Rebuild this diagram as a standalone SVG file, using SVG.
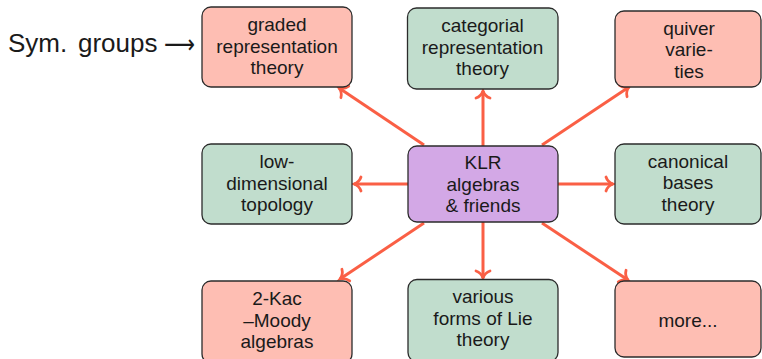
<svg xmlns="http://www.w3.org/2000/svg" width="762" height="359" viewBox="0 0 762 359">
<defs>
<marker id="to" markerUnits="userSpaceOnUse" markerWidth="20" markerHeight="20" refX="0" refY="0" viewBox="-10 -10 20 20" orient="auto" overflow="visible">
<path d="M -7 -7 C -5.5 -2.5 -2 -0.7 0 0 C -2 0.7 -5.5 2.5 -7 7" fill="none" stroke="#FA5F45" stroke-width="2.8" stroke-linecap="round"/>
</marker>
<style>
.box{stroke:#2b2b2b;stroke-width:1.3}
.red{fill:#FEBEB3}
.green{fill:#C1DDCD}
.purple{fill:#D3A8E6}
.t{font-family:"Liberation Sans",Arial,sans-serif;font-size:19px;fill:#1a1a1a;text-anchor:middle}
.big{font-family:"Liberation Sans",Arial,sans-serif;font-size:26px;fill:#1a1a1a}
.edge{stroke:#FA5F45;stroke-width:3;fill:none;marker-end:url(#to)}
</style>
</defs>
<rect width="762" height="359" fill="#ffffff"/>
<g id="connectors">
<line class="edge" x1="483" y1="146" x2="483" y2="91"/>
<line class="edge" x1="424" y1="145" x2="339" y2="88"/>
<line class="edge" x1="542" y1="145" x2="629" y2="87"/>
<line class="edge" x1="408" y1="184" x2="354" y2="184"/>
<line class="edge" x1="558" y1="184" x2="613" y2="184"/>
<line class="edge" x1="424" y1="223" x2="340" y2="279"/>
<line class="edge" x1="483" y1="222" x2="483" y2="278"/>
<line class="edge" x1="542" y1="223" x2="628" y2="280"/>
</g>
<g id="sym">
<text class="big" x="8" y="51.5">Sym.</text>
<text class="big" x="78" y="51.5">groups</text>
<text x="164" y="53" textLength="31" lengthAdjust="spacingAndGlyphs" style="font-family:'DejaVu Sans',sans-serif;font-size:26px;fill:#1a1a1a">⟶</text>
</g>
<g id="graded">
<rect class="box red" x="202" y="7" width="150" height="80" rx="9"/>
<text class="t" x="277" y="31">graded</text>
<text class="t" x="277" y="52.5">representation</text>
<text class="t" x="277" y="74">theory</text>
</g>
<g id="categorial">
<rect class="box green" x="407.5" y="8" width="150.5" height="81" rx="9"/>
<text class="t" x="482.5" y="32">categorial</text>
<text class="t" x="482.5" y="53.5">representation</text>
<text class="t" x="482.5" y="75">theory</text>
</g>
<g id="quiver">
<rect class="box red" x="615" y="11" width="146" height="76" rx="9"/>
<text class="t" x="689" y="34.5">quiver</text>
<text class="t" x="689" y="56">varie-</text>
<text class="t" x="689" y="77.5">ties</text>
</g>
<g id="lowdim">
<rect class="box green" x="202" y="144" width="150" height="80" rx="9"/>
<text class="t" x="277" y="168">low-</text>
<text class="t" x="277" y="189.5">dimensional</text>
<text class="t" x="277" y="211">topology</text>
</g>
<g id="klr">
<rect class="box purple" x="408" y="146" width="150" height="76" rx="9"/>
<text class="t" x="483" y="169">KLR</text>
<text class="t" x="483" y="190.5">algebras</text>
<text class="t" x="483" y="212">&amp; friends</text>
</g>
<g id="canonical">
<rect class="box green" x="615" y="144" width="146" height="80" rx="9"/>
<text class="t" x="688" y="167.5">canonical</text>
<text class="t" x="688" y="189">bases</text>
<text class="t" x="688" y="211">theory</text>
</g>
<g id="kac">
<rect class="box red" x="202" y="281" width="150" height="82" rx="9"/>
<text class="t" x="277" y="305">2-Kac</text>
<text class="t" x="277" y="326.5">–Moody</text>
<text class="t" x="277" y="348">algebras</text>
</g>
<g id="various">
<rect class="box green" x="408" y="279.5" width="150" height="82" rx="9"/>
<text class="t" x="483" y="303">various</text>
<text class="t" x="483" y="324.5">forms of Lie</text>
<text class="t" x="483" y="346">theory</text>
</g>
<g id="more">
<rect class="box red" x="615" y="281" width="146" height="76" rx="9"/>
<text class="t" x="688" y="326.5">more...</text>
</g>
</svg>
